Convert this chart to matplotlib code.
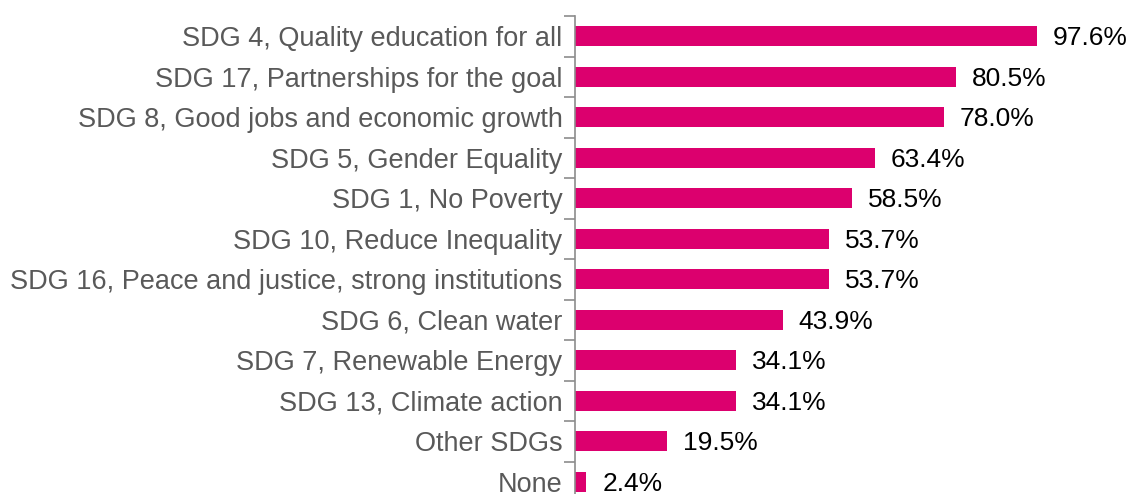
import matplotlib.pyplot as plt
import numpy as np

plt.rcParams['font.family'] = ['Liberation Sans', 'DejaVu Sans']

labels = [
    "SDG 4, Quality education for all",
    "SDG 17, Partnerships for the goal",
    "SDG 8, Good jobs and economic growth",
    "SDG 5, Gender Equality",
    "SDG 1, No Poverty",
    "SDG 10, Reduce Inequality",
    "SDG 16, Peace and justice, strong institutions",
    "SDG 6, Clean water",
    "SDG 7, Renewable Energy",
    "SDG 13, Climate action",
    "Other SDGs",
    "None",
]
values = [97.6, 80.5, 78.0, 63.4, 58.5, 53.7, 53.7, 43.9, 34.1, 34.1, 19.5, 2.4]

W, H = 1130, 494
fig = plt.figure(figsize=(W / 100, H / 100), dpi=100)
ax = fig.add_axes([575 / W, 1 - (16 + 486) / H, 473 / W, 486 / H])

y = np.arange(len(labels))
ax.barh(y, values, height=0.5, color='#DC006E')
ax.set_ylim(len(labels) - 0.5, -0.5)
ax.set_xlim(0, 100)

for yi, v in zip(y, values):
    ax.text(v + 3.4, yi + 0.05, f"{v:.1f}%", va='center', ha='left', fontsize=19, color='black')

ax.set_yticks(y)
ax.set_yticklabels(labels, fontsize=19.5, color='#595959')
ax.tick_params(axis='y', which='major', length=0, pad=9)
ax.set_yticks(np.arange(-0.5, len(labels), 1), minor=True)
ax.tick_params(axis='y', which='minor', length=8, width=1.2, color='#8c8c8c')
ax.set_xticks([])

for s in ['top', 'right', 'bottom']:
    ax.spines[s].set_visible(False)
ax.spines['left'].set_color('#8c8c8c')
ax.spines['left'].set_linewidth(1.2)

fig.savefig('out.png', dpi=100)
